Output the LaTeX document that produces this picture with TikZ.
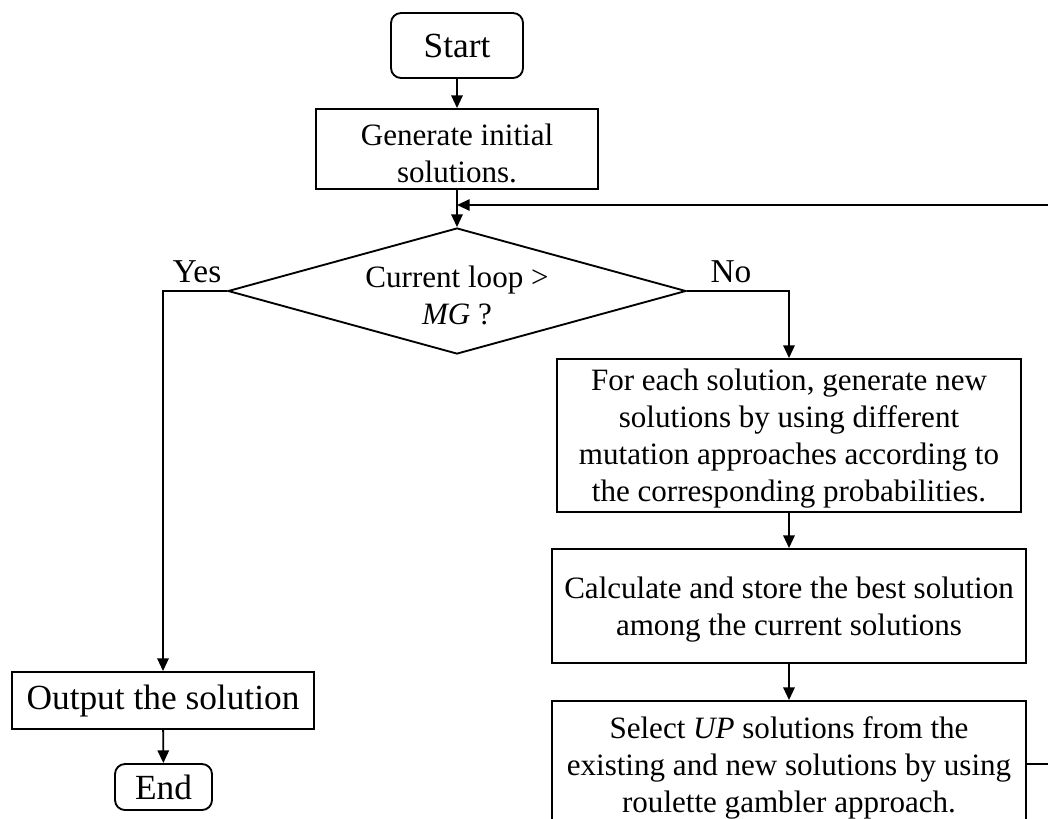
\documentclass[tikz,border=0pt]{standalone}
\usepackage{fontspec}
\setmainfont{Liberation Serif}
\usetikzlibrary{arrows.meta,shapes.geometric}

\tikzset{
  flow/.style={line width=1.4pt, -{Triangle[length=9.5pt,width=8.5pt]}},
  txt/.style={font=\fontsize{23.3pt}{27.7pt}\selectfont, align=center, inner sep=0pt},
  bigtxt/.style={font=\fontsize{26.5pt}{30pt}\selectfont, align=center, inner sep=0pt},
  lbltxt/.style={font=\fontsize{25pt}{30pt}\selectfont, inner sep=0pt},
  procbox/.style={draw, line width=1.4pt, rectangle, inner sep=0pt},
  boxtext/.style 2 args={label={[txt, yshift=#1]center:{#2}}},
  endbox/.style={bigtxt, draw, line width=1.4pt, rectangle},
  termbox/.style={endbox, rounded corners=7.5pt},
  decbox/.style={draw, line width=1.4pt, diamond, inner sep=0pt}
}

\begin{document}
\begin{tikzpicture}[x=0.75pt, y=-0.75pt]
  \useasboundingbox (0,0) rectangle (1048,818);
  \clip (0,0) rectangle (1048,818);

  % terminals and process steps
  \node[termbox, minimum width=99pt, minimum height=48.75pt] (start) at (457,45.5) {Start};
  \node[procbox, minimum width=211.5pt, minimum height=60pt,
        boxtext={-3.5pt}{Generate initial\\solutions.}] (gen) at (457,149) {};
  \node[decbox, minimum width=343.5pt, minimum height=94.5pt] (dec) at (457,291) {};
  \node[txt] (dectext) at (457,295) {Current loop >\\\textit{MG} ?};
  \node[procbox, minimum width=348pt, minimum height=114.75pt,
        boxtext={-2pt}{For each solution, generate new\\solutions by using different\\mutation approaches according to\\the corresponding probabilities.}]
        (mut) at (789,435.5) {};
  \node[procbox, minimum width=355.5pt, minimum height=85.5pt,
        boxtext={-3pt}{Calculate and store the best solution\\among the current solutions}]
        (calc) at (789,606) {};
  \node[procbox, minimum width=355.5pt, minimum height=94.5pt,
        boxtext={-3pt}{Select \textit{UP} solutions from the\\existing and new solutions by using\\roulette gambler approach.}]
        (sel) at (789,764) {};
  \node[endbox, minimum width=226.5pt, minimum height=42.75pt] (out) at (163,700.5) {Output the solution};
  \node[termbox, minimum width=72.75pt, minimum height=34.5pt] (end) at (163.5,787) {End};

  % branch labels
  \node[lbltxt, anchor=base] (yes) at (197,282) {Yes};
  \node[lbltxt, anchor=base] (no) at (731,282) {No};

  % loop-back junction and routing points
  \coordinate (join) at (457,205);
  \coordinate (yturn) at (163,291);
  \coordinate (nturn) at (789,291);
  \coordinate (rback) at (1075,764);
  \coordinate (rtop) at (1075,205);

  % connectors
  \draw[flow] (start) -- (gen);
  \draw[flow] (gen) -- (dec);
  \draw[flow] (dec.west) -- (yturn) -- (out);
  \draw[flow] (dec.east) -- (nturn) -- (mut);
  \draw[flow] (mut) -- (calc);
  \draw[flow] (calc) -- (sel);
  \draw[flow] (out) -- (end);
  \draw[flow] (sel.east) -- (rback) -- (rtop) -- (join);
\end{tikzpicture}
\end{document}
